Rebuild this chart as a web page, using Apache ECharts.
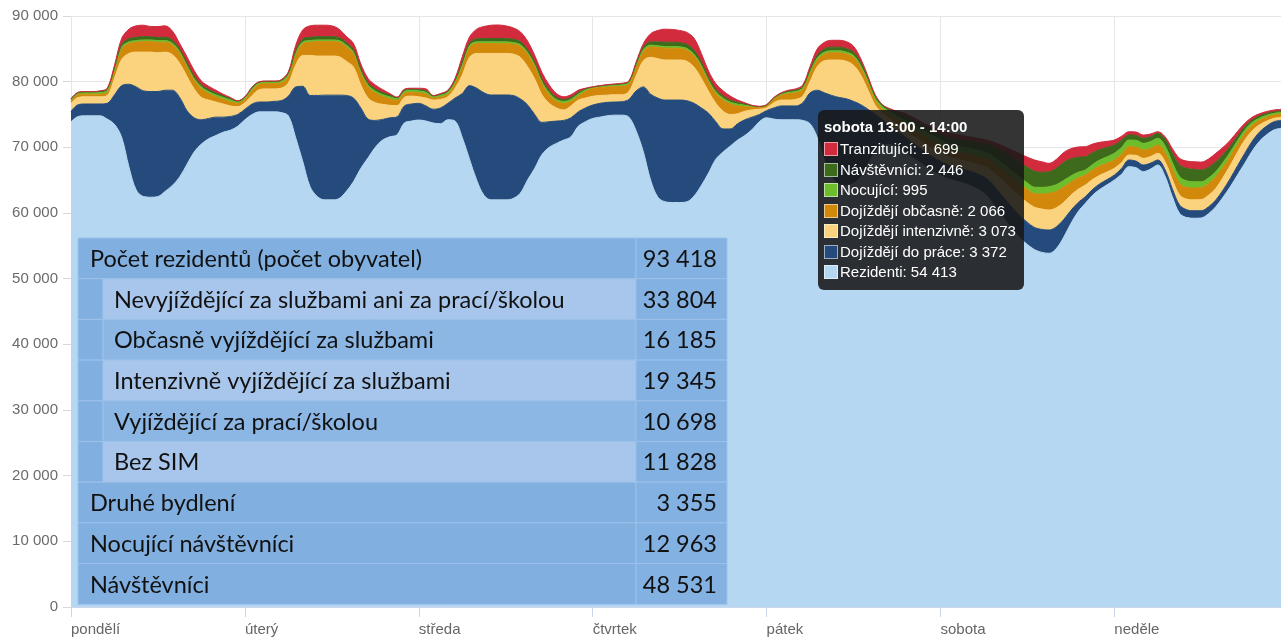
<!DOCTYPE html>
<html lang="cs">
<head>
<meta charset="utf-8">
<title>Přítomné obyvatelstvo během týdne</title>
<script src="https://cdn.jsdelivr.net/npm/echarts/dist/echarts.min.js"></script>
<style>
  html, body { margin: 0; padding: 0; background: #ffffff; }
  #chart { width: 1281px; height: 639px; }
</style>
</head>
<body>
<div id="chart"></div>
<script>
// Days of the week shown on the x axis (tick labels)
const dayNames = ['pondělí', 'úterý', 'středa', 'čtvrtek', 'pátek', 'sobota', 'neděle'];

// Hourly values, one row per day (24 hours each), stacked from the bottom up
const rezidenti = [
  73900, 74700, 74800, 74800, 74800, 74300, 73500, 71500, 67000, 63500, 62500, 62400, 62500, 63300, 64200, 65500, 67400, 69300, 70500, 71300, 71800, 72300, 72600, 73200,
  74200, 75000, 75400, 75400, 75400, 75300, 74800, 71500, 67800, 64000, 62500, 62000, 62000, 62200, 63300, 64800, 66800, 68400, 70000, 71100, 71600, 71900, 73700, 74000,
  74160, 74000, 73700, 73600, 74200, 74000, 71500, 68200, 65000, 62700, 62000, 62000, 62000, 62200, 63000, 65000, 66800, 68900, 70000, 70600, 71100, 71600, 73200, 73900,
  74400, 74600, 74800, 74900, 74900, 74600, 72500, 69300, 65000, 62400, 61700, 61600, 61600, 61700, 62600, 64200, 66100, 68200, 69300, 70200, 71100, 71800, 72700, 73900,
  74500, 74300, 74200, 74200, 74200, 74100, 73600, 71500, 68000, 65500, 64300, 64200, 64500, 65500, 67500, 69300, 70300, 70400, 70000, 69300, 68500, 67800, 67000, 66300,
  65700, 65200, 64900, 64600, 64200, 63700, 63000, 61800, 60300, 58800, 57400, 56200, 55200, 54413, 54000, 53860, 54600, 56300, 58400, 60200, 61470, 62700, 63600, 64300,
  65020, 65900, 67050, 66900, 66290, 66700, 67310, 65600, 62500, 59950, 59300, 59200, 59250, 59900, 60960, 62400, 64000, 65800, 67560, 69400, 70900, 71900, 72640, 72900
];
const dojizdejiDoPrace = [
  1600, 1800, 1800, 1800, 1800, 2400, 4500, 7900, 12600, 15700, 16100, 16100, 16000, 15400, 14500, 12100, 8200, 5200, 3700, 3100, 2800, 2300, 2100, 1800,
  1600, 1600, 1500, 1500, 1600, 1800, 3000, 7700, 11500, 13900, 15400, 15950, 15950, 15750, 14600, 12700, 9200, 5900, 4100, 3150, 2900, 2750, 2600, 2600,
  2540, 2300, 2100, 2400, 2500, 3500, 6700, 11200, 14000, 15600, 15970, 15970, 15970, 15700, 14400, 11500, 8200, 4900, 3900, 3400, 3000, 2900, 2200, 2100,
  2040, 2100, 2050, 2000, 2050, 2700, 6100, 9900, 13100, 15100, 15500, 15600, 15600, 15400, 14100, 11800, 9100, 5700, 3500, 2600, 2500, 2400, 1900, 1100,
  1100, 1700, 2100, 2100, 2100, 2700, 4700, 7200, 10300, 12400, 13300, 13200, 12500, 11000, 8300, 5700, 3900, 2900, 2500, 2400, 2300, 2200, 2200, 2200,
  2200, 2100, 2100, 2100, 2200, 2300, 2500, 2800, 3000, 3200, 3300, 3350, 3370, 3372, 3500, 3550, 3300, 2700, 2000, 1400, 1010, 900, 850, 800,
  760, 900, 1020, 1000, 1020, 900, 760, 1000, 1200, 1270, 1200, 1150, 1100, 1050, 1020, 1100, 1250, 1400, 1530, 1500, 1400, 1330, 1260, 1200
];
const dojizdejiIntenzivne = [
  1200, 1100, 1100, 1100, 1100, 1200, 2500, 4000, 4700, 5300, 5900, 6000, 5900, 5800, 5400, 5200, 5200, 4400, 3400, 2800, 2300, 2000, 1600, 1200,
  1000, 1300, 1900, 2000, 1900, 1900, 2000, 3300, 4700, 6100, 6000, 5950, 5950, 5850, 5200, 4700, 3500, 3200, 2700, 2300, 1900, 1700, 1300, 1200,
  1000, 1200, 1400, 1300, 1000, 1500, 2800, 4300, 5300, 6000, 6330, 6330, 6330, 6300, 6300, 5800, 5400, 4200, 2800, 2000, 1600, 1800, 1800, 1500,
  1330, 1200, 1100, 1100, 1050, 1200, 2300, 4000, 5600, 6000, 6100, 6100, 6100, 6000, 5500, 4500, 3300, 2800, 2700, 2200, 1500, 1300, 1100, 800,
  400, 800, 900, 900, 1000, 1000, 1700, 3600, 4900, 5400, 5700, 5700, 5500, 4500, 2900, 1400, 1000, 1000, 1000, 1000, 1100, 1200, 1200, 1300,
  1300, 1300, 1300, 1300, 1350, 1400, 1600, 1900, 2200, 2500, 2750, 2900, 3000, 3073, 3100, 3040, 2900, 2600, 2300, 2000, 1780, 1500, 1300, 1150,
  1020, 900, 760, 880, 1010, 1000, 1020, 1200, 1400, 1520, 1600, 1650, 1700, 1750, 1770, 1900, 2000, 2050, 2020, 1600, 1100, 750, 510, 480
];
const dojizdejiObcasne = [
  300, 400, 400, 400, 400, 500, 1100, 1600, 1500, 1500, 1600, 1600, 1600, 1500, 1500, 1500, 1400, 1300, 1300, 1000, 800, 700, 650, 500,
  500, 700, 800, 800, 800, 800, 1000, 1500, 1800, 2000, 2200, 2200, 2200, 2200, 2200, 2000, 1800, 1700, 1500, 1200, 1000, 800, 600, 600,
  600, 600, 300, 400, 400, 700, 1300, 1500, 1500, 1500, 1500, 1500, 1500, 1500, 1700, 1900, 1900, 1700, 1300, 1000, 1000, 700, 600, 1000,
  1210, 1200, 1250, 1250, 1300, 1100, 1300, 1400, 1600, 1700, 1800, 1800, 1750, 1700, 1700, 1700, 1400, 1500, 1700, 1600, 1200, 700, 400, 250,
  300, 500, 700, 1000, 1000, 1000, 1200, 1000, 1000, 1100, 1100, 1100, 1200, 1100, 1100, 700, 600, 700, 800, 900, 1000, 1000, 1100, 1100,
  1100, 1100, 1100, 1150, 1200, 1250, 1300, 1400, 1550, 1700, 1850, 1950, 2020, 2066, 2300, 2540, 2500, 2350, 2000, 1750, 1520, 1450, 1400, 1330,
  1270, 1270, 1270, 1270, 1270, 1260, 1260, 1400, 1600, 1770, 1800, 1800, 1800, 1800, 1780, 1600, 1400, 1200, 1020, 850, 700, 600, 510, 480
];
const nocujici = [
  250, 250, 250, 250, 280, 300, 300, 280, 260, 260, 260, 260, 260, 260, 260, 270, 270, 270, 280, 290, 300, 300, 290, 250,
  250, 300, 250, 250, 250, 280, 300, 280, 260, 260, 260, 260, 260, 260, 270, 270, 280, 280, 280, 290, 300, 250, 300, 300,
  300, 300, 250, 250, 280, 300, 280, 280, 260, 260, 260, 260, 260, 260, 260, 270, 280, 280, 280, 290, 300, 300, 300, 250,
  150, 170, 200, 220, 250, 280, 300, 280, 270, 260, 260, 260, 260, 260, 260, 270, 280, 280, 280, 290, 280, 250, 180, 130,
  130, 150, 180, 200, 220, 250, 300, 300, 300, 300, 300, 300, 310, 320, 330, 350, 380, 420, 480, 550, 620, 680, 740, 800,
  830, 850, 870, 880, 900, 920, 940, 950, 960, 970, 980, 985, 990, 995, 1000, 1020, 1020, 1010, 950, 850, 770, 850, 920, 980,
  1020, 1020, 1010, 1020, 1020, 1020, 1020, 1020, 1020, 1020, 1000, 950, 900, 830, 760, 700, 640, 580, 510, 420, 340, 290, 250, 240
];
const navstevnici = [
  100, 100, 100, 100, 130, 170, 250, 400, 480, 500, 500, 480, 490, 500, 460, 380, 390, 380, 330, 310, 280, 230, 190, 100,
  100, 200, 100, 100, 100, 130, 220, 380, 470, 500, 500, 500, 490, 450, 380, 380, 350, 330, 330, 310, 280, 150, 200, 200,
  180, 200, 100, 130, 160, 220, 400, 400, 480, 500, 520, 520, 500, 500, 460, 430, 400, 400, 380, 330, 280, 280, 260, 150,
  60, 80, 100, 120, 130, 140, 220, 350, 500, 600, 650, 650, 630, 620, 620, 500, 420, 380, 350, 300, 250, 150, 70, 40,
  40, 80, 120, 150, 180, 200, 300, 450, 500, 550, 550, 550, 500, 450, 400, 350, 250, 320, 480, 700, 800, 850, 880, 900,
  900, 950, 1000, 1050, 1100, 1150, 1250, 1400, 1650, 1900, 2100, 2250, 2370, 2446, 2300, 2280, 2500, 2750, 2600, 2300, 2020, 1800, 1600, 1430,
  1260, 1100, 760, 760, 760, 760, 760, 1000, 1400, 1780, 1900, 1900, 1800, 1650, 1520, 1200, 900, 700, 500, 400, 330, 290, 260, 250
];
const tranzitujici = [
  50, 50, 50, 50, 90, 130, 350, 920, 1460, 1740, 1740, 1560, 1650, 1740, 1380, 850, 940, 850, 590, 500, 420, 270, 170, 50,
  50, 100, 50, 50, 50, 90, 180, 840, 1370, 1740, 1740, 1740, 1650, 1290, 950, 950, 770, 690, 590, 450, 220, 100, 150, 100,
  220, 300, 50, 120, 160, 280, 820, 920, 1460, 1840, 2020, 2050, 1940, 1740, 1480, 1300, 1020, 1020, 840, 580, 420, 420, 340, 100,
  40, 50, 50, 60, 70, 80, 280, 570, 1230, 1740, 1990, 1940, 1860, 1820, 1820, 1330, 1000, 840, 770, 610, 370, 200, 50, 30,
  30, 70, 100, 150, 200, 250, 500, 950, 1000, 1050, 1050, 1050, 890, 630, 270, 200, 70, 160, 240, 350, 380, 370, 380, 400,
  570, 700, 730, 720, 650, 680, 610, 650, 840, 930, 1120, 1365, 1550, 1699, 1600, 1270, 1350, 1500, 1550, 1550, 1530, 1300, 1100, 920,
  760, 600, 510, 500, 500, 400, 250, 400, 700, 1010, 1100, 1150, 1200, 1250, 1280, 1100, 900, 700, 510, 400, 330, 290, 250, 240
];

// Y axis tick values
const yTicks = [0, 10000, 20000, 30000, 40000, 50000, 60000, 70000, 80000, 90000];

// Summary table drawn over the chart
const tableLabels = [
  'Počet rezidentů (počet obyvatel)',
  'Nevyjíždějící za službami ani za prací/školou',
  'Občasně vyjíždějící za službami',
  'Intenzivně vyjíždějící za službami',
  'Vyjíždějící za prací/školou',
  'Bez SIM',
  'Druhé bydlení',
  'Nocující návštěvníci',
  'Návštěvníci'
];
const tableValues = [93418, 33804, 16185, 19345, 10698, 11828, 3355, 12963, 48531];
const tableLevels = [0, 1, 1, 1, 1, 1, 0, 0, 0];

// Hour slot shown in the pinned tooltip
const pinnedSlot = 'sobota 13:00 - 14:00';

// ---------------------------------------------------------------------------

const categories = [];
dayNames.forEach(function (d) {
  for (let h = 0; h < 24; h++) categories.push(d + ' ' + h + ':00 - ' + (h + 1) + ':00');
});

function fmt(n) {
  return String(Math.round(n)).replace(/\B(?=(\d{3})+(?!\d))/g, ' ');
}

const seriesDefs = [
  { name: 'Rezidenti', data: rezidenti, color: '#b5d7f1' },
  { name: 'Dojíždějí do práce', data: dojizdejiDoPrace, color: '#244b7c' },
  { name: 'Dojíždějí intenzivně', data: dojizdejiIntenzivne, color: '#fbd37f' },
  { name: 'Dojíždějí občasně', data: dojizdejiObcasne, color: '#d2890b' },
  { name: 'Nocující', data: nocujici, color: '#6dbd2c' },
  { name: 'Návštěvníci', data: navstevnici, color: '#3d6a1b' },
  { name: 'Tranzitující', data: tranzitujici, color: '#d12b3d' }
];

const GRID = { left: 71, right: 0, top: 16, bottom: 32 };
const AXIS_FONT = '"Liberation Sans", Arial, sans-serif';
const TABLE_FONT = '23.5px Lato, "Open Sans", sans-serif';

// Table geometry
const TB = { x: 78, y: 238, w: 649, rowH: 40.7, valW: 91, indentW: 25 };
const tableGraphics = [];
let subCount = 0;
tableLabels.forEach(function (label, i) {
  const y = TB.y + i * TB.rowH;
  const valX = TB.x + TB.w - TB.valW;
  const level = tableLevels[i];
  const mainFill = '#80afe0';
  const stroke = '#9cc1ea';
  if (level === 0) {
    tableGraphics.push({ type: 'rect', z: 100, shape: { x: TB.x, y: y, width: valX - TB.x, height: TB.rowH },
      style: { fill: mainFill, stroke: stroke, lineWidth: 1 } });
  } else {
    tableGraphics.push({ type: 'rect', z: 100, shape: { x: TB.x, y: y, width: TB.indentW, height: TB.rowH },
      style: { fill: mainFill, stroke: stroke, lineWidth: 1 } });
    const light = (subCount % 2 === 0);
    subCount++;
    tableGraphics.push({ type: 'rect', z: 100, shape: { x: TB.x + TB.indentW, y: y, width: valX - TB.x - TB.indentW, height: TB.rowH },
      style: { fill: light ? '#a8c6eb' : '#8cb7e5', stroke: stroke, lineWidth: 1 } });
  }
  tableGraphics.push({ type: 'rect', z: 100, shape: { x: valX, y: y, width: TB.valW, height: TB.rowH },
    style: { fill: '#83b1e1', stroke: stroke, lineWidth: 1 } });
  tableGraphics.push({ type: 'text', z: 101, x: level === 0 ? TB.x + 12 : TB.x + TB.indentW + 11, y: y + TB.rowH / 2 + 1,
    style: { text: label, fill: '#111111', font: TABLE_FONT, textVerticalAlign: 'middle', verticalAlign: 'middle' } });
  tableGraphics.push({ type: 'text', z: 101, x: TB.x + TB.w - 10, y: y + TB.rowH / 2 + 1,
    style: { text: fmt(tableValues[i]), fill: '#111111', font: TABLE_FONT, textAlign: 'right', align: 'right', textVerticalAlign: 'middle', verticalAlign: 'middle' } });
});

const dayStart = function (i) { return i % 24 === 0; };

const chart = echarts.init(document.getElementById('chart'));
chart.setOption({
  animation: false,
  backgroundColor: '#ffffff',
  grid: GRID,
  tooltip: {
    trigger: 'axis',
    triggerOn: 'none',
    alwaysShowContent: true,
    transitionDuration: 0,
    axisPointer: { type: 'line', lineStyle: { opacity: 0 } },
    backgroundColor: 'rgba(24, 24, 24, 0.88)',
    borderWidth: 0,
    padding: [6, 8, 7, 6],
    extraCssText: 'border-radius:6px;box-shadow:none;',
    textStyle: { color: '#ffffff', fontSize: 15, fontFamily: AXIS_FONT },
    position: function () { return [818, 110]; },
    formatter: function (params) {
      let html = '<div style="font-weight:bold;line-height:21px;margin-bottom:2px;">' + params[0].axisValue + '</div>';
      params.slice().reverse().forEach(function (p) {
        html += '<div style="line-height:20.5px;white-space:nowrap;">' +
          '<span style="display:inline-block;width:12px;height:12px;background:' + p.color +
          ';border:1px solid rgba(255,255,255,0.55);vertical-align:-2px;margin-right:2px;"></span>' +
          p.seriesName + ': ' + fmt(p.value) + '</div>';
      });
      return html;
    }
  },
  xAxis: {
    type: 'category',
    data: categories,
    boundaryGap: false,
    axisLine: { show: true, lineStyle: { color: '#ccd6eb' } },
    axisTick: { show: true, interval: dayStart, length: 10, lineStyle: { color: '#ccd6eb' } },
    axisLabel: {
      interval: dayStart,
      formatter: function (v, i) { return dayNames[Math.floor(i / 24)]; },
      align: 'left',
      color: '#666666',
      fontSize: 15,
      fontFamily: AXIS_FONT,
      margin: 15
    },
    splitLine: { show: true, interval: dayStart, lineStyle: { color: '#e6e6e6' } }
  },
  yAxis: {
    type: 'value',
    min: yTicks[0],
    max: yTicks[yTicks.length - 1],
    interval: yTicks[1] - yTicks[0],
    axisLine: { show: false },
    axisTick: { show: true, length: 8, lineStyle: { color: '#d9d9d9' } },
    axisLabel: {
      formatter: function (v) { return fmt(v); },
      color: '#6a6a6a',
      fontSize: 15,
      fontFamily: AXIS_FONT,
      margin: 13
    },
    splitLine: { show: true, lineStyle: { color: '#e6e6e6' } }
  },
  series: seriesDefs.map(function (s) {
    return {
      name: s.name,
      type: 'line',
      stack: 'obyvatele',
      data: s.data,
      smooth: 0.35,
      symbol: 'none',
      showSymbol: false,
      color: s.color,
      lineStyle: { width: 1, color: s.color },
      areaStyle: { color: s.color, opacity: 1 },
      emphasis: { disabled: true }
    };
  }),
  graphic: tableGraphics
});

chart.dispatchAction({ type: 'showTip', seriesIndex: 0, dataIndex: categories.indexOf(pinnedSlot) });
</script>
</body>
</html>
